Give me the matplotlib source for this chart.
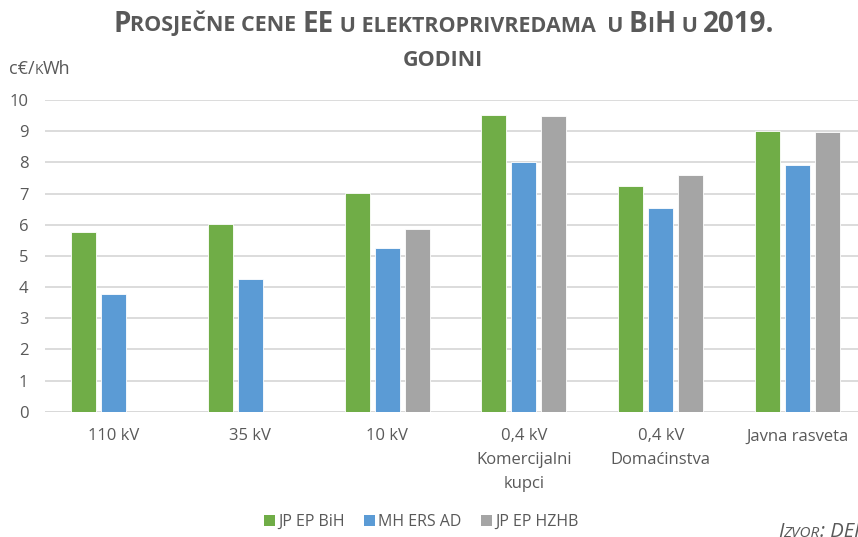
import numpy as np
import matplotlib
matplotlib.use("Agg")
import matplotlib.pyplot as plt
from matplotlib.offsetbox import TextArea, HPacker, AnchoredOffsetbox
from matplotlib.patches import Patch

categories = ["110 kV", "35 kV", "10 kV", "0,4 kV\nKomercijalni\nkupci", "0,4 kV\nDomaćinstva", "Javna rasveta"]
series_names = ["JP EP BiH", "MH ERS AD", "JP EP HZHB"]
jp_ep_bih = [5.76, 6.02, 7.01, 9.52, 7.25, 9.01]
mh_ers_ad = [3.77, 4.26, 5.26, 8.02, 6.52, 7.90]
jp_ep_hzhb = [None, None, 5.85, 9.49, 7.60, 8.98]
yticks = list(range(0, 11))
colors = ["#70AD47", "#5B9BD5", "#A5A5A5"]

plt.rcParams["font.family"] = ["Open Sans", "DejaVu Sans"]
TXT = "#595959"

W, H = 858, 537
fig = plt.figure(figsize=(W / 100, H / 100), dpi=100)
ax = fig.add_axes([45 / W, 1 - 411.7 / H, 821 / W, 311.7 / H])

x = np.arange(len(categories))
width = 0.183
offs = [-0.2195, 0.0, 0.2195]
for s, (vals, c) in enumerate(zip([jp_ep_bih, mh_ers_ad, jp_ep_hzhb], colors)):
    xs = [x[i] + offs[s] for i, v in enumerate(vals) if v is not None]
    hs = [v for v in vals if v is not None]
    ax.bar(xs, hs, width=width, color=c, edgecolor="white", linewidth=0.6, zorder=3)

ax.set_xlim(-0.5, len(categories) - 0.5)
ax.set_ylim(0, 10)
ax.set_yticks(yticks)
ax.set_xticks(x)
ax.set_xticklabels(categories, fontsize=12, color=TXT, linespacing=1.65)
ax.tick_params(axis="y", length=0, pad=12, labelsize=12, labelcolor=TXT)
ax.tick_params(axis="x", length=0, pad=12)
ax.grid(axis="y", color="#D9D9D9", linewidth=1.3, zorder=0)
ax.set_axisbelow(True)
for sp in ax.spines.values():
    sp.set_visible(False)
ax.axhline(0, color="#D9D9D9", linewidth=1.3, zorder=1)


def smallcaps(pieces, big, small, weight, style="normal"):
    boxes = []
    for txt, is_big in pieces:
        boxes.append(TextArea(txt, textprops=dict(fontsize=big if is_big else small,
                                                   color=TXT, fontweight=weight,
                                                   fontstyle=style)))
    return HPacker(children=boxes, align="baseline", pad=0, sep=0)


def place(packer, xfig, yfig, loc):
    ab = AnchoredOffsetbox(loc=loc, child=packer, pad=0, borderpad=0, frameon=False,
                           bbox_to_anchor=(xfig, yfig), bbox_transform=fig.transFigure)
    fig.add_artist(ab)


title1 = [("P", True), ("ROSJEČNE CENE ", False), ("EE", True), (" U ELEKTROPRIVREDAMA  U ", False),
          ("B", True), ("I", False), ("H", True), (" U ", False), ("2019.", True)]
place(smallcaps(title1, 20, 15.5, "bold"), 444 / W, 1 - 24 / H, "center")
place(smallcaps([("GODINI", False)], 20, 15.5, "bold"), 443 / W, 1 - 61 / H, "center")
place(smallcaps([("c€/", True), ("K", False), ("Wh", True)], 13, 10, "normal"), 9 / W, 1 - 69 / H, "center left")
place(smallcaps([("I", True), ("ZVOR", False), (": DERK", True)], 14.5, 11, "normal", "italic"),
      778 / W, 1 - 532 / H, "center left")

handles = [Patch(facecolor=c, edgecolor="none") for c in colors]
fig.legend(handles, series_names, loc="center", bbox_to_anchor=(421 / W, 1 - 522 / H),
           ncol=3, frameon=False, fontsize=11.5, labelcolor=TXT, handlelength=0.7,
           handleheight=0.7, handletextpad=0.2, columnspacing=1.2)

fig.savefig("out.png", dpi=100)
